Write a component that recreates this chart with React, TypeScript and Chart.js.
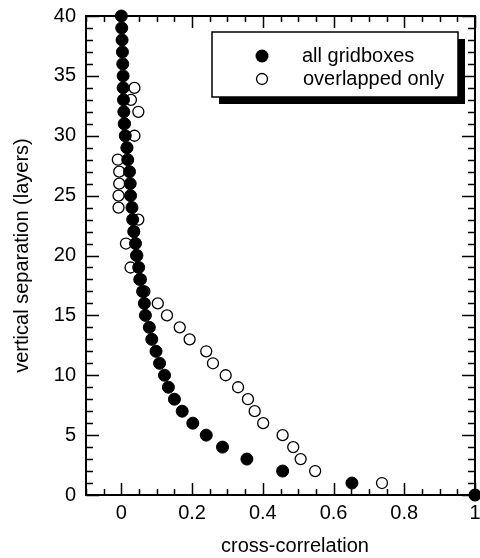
import React, { useEffect, useRef } from "react";
import { Chart, registerables } from "chart.js";

Chart.register(...registerables);

// ---- data ----
const layers = [
  0, 1, 2, 3, 4, 5, 6, 7, 8, 9, 10, 11, 12, 13, 14, 15, 16, 17, 18, 19, 20,
  21, 22, 23, 24, 25, 26, 27, 28, 29, 30, 31, 32, 33, 34, 35, 36, 37, 38, 39, 40,
];
const allGridboxes = [
  1.0, 0.652, 0.456, 0.355, 0.286, 0.24, 0.202, 0.172, 0.15, 0.133, 0.122,
  0.108, 0.098, 0.086, 0.079, 0.068, 0.065, 0.06, 0.052, 0.049, 0.044,
  0.04, 0.035, 0.032, 0.03, 0.026, 0.025, 0.023, 0.018, 0.016, 0.011,
  0.008, 0.007, 0.006, 0.005, 0.005, 0.004, 0.003, 0.002, 0.001, 0.0,
];
const overlappedLayers = [
  0, 1, 2, 3, 4, 5, 6, 7, 8, 9, 10, 11, 12, 13, 14, 15, 16, 17, 18, 19, 20,
  21, 22, 23, 24, 25, 26, 27, 28, 29, 30, 31, 32, 33, 34,
];
const overlappedOnly = [
  1.0, 0.737, 0.548, 0.507, 0.486, 0.456, 0.401, 0.377, 0.358, 0.33, 0.295,
  0.259, 0.24, 0.193, 0.165, 0.129, 0.103, 0.065, 0.055, 0.026, 0.042,
  0.013, 0.036, 0.048, -0.008, -0.008, -0.006, -0.006, -0.01, 0.015, 0.037,
  0.01, 0.048, 0.027, 0.037,
];
const seriesNames = ["all gridboxes", "overlapped only"];
const xTickLabels = [0, 0.2, 0.4, 0.6, 0.8, 1];
const yTickLabels = [0, 5, 10, 15, 20, 25, 30, 35, 40];
const xTitle = "cross-correlation";
const yTitle = "vertical separation (layers)";
const X_MIN = -0.1;
const X_MAX = 1.0;
const X_MINOR = 0.05;
const X_MAJOR = 0.2;
const Y_MIN = 0;
const Y_MAX = 40;
const Y_MINOR = 1;
const Y_MAJOR = 5;

const FONT = "'Liberation Sans', Arial, Helvetica, sans-serif";
const INK = "#000";

const framePlugin = {
  id: "frameTicks",
  beforeDatasetsDraw(chart: any) {
    const { ctx, chartArea: a, scales } = chart;
    const x = scales.x;
    const y = scales.y;
    ctx.save();
    ctx.strokeStyle = INK;
    ctx.lineWidth = 1.5;
    ctx.beginPath();
    const nx = Math.round((X_MAX - X_MIN) / X_MINOR);
    for (let i = 0; i <= nx; i++) {
      const v = X_MIN + i * X_MINOR;
      const r = v / X_MAJOR;
      const major = Math.abs(r - Math.round(r)) < 1e-6;
      const len = major ? 12 : 6;
      const px = Math.round(x.getPixelForValue(v)) + 0.5;
      ctx.moveTo(px, a.bottom);
      ctx.lineTo(px, a.bottom - len);
      ctx.moveTo(px, a.top);
      ctx.lineTo(px, a.top + len);
    }
    const ny = Math.round((Y_MAX - Y_MIN) / Y_MINOR);
    for (let i = 0; i <= ny; i++) {
      const v = Y_MIN + i * Y_MINOR;
      const major = v % Y_MAJOR === 0;
      const len = major ? 13 : 7;
      const py = Math.round(y.getPixelForValue(v)) + 0.5;
      ctx.moveTo(a.left, py);
      ctx.lineTo(a.left + len, py);
      ctx.moveTo(a.right, py);
      ctx.lineTo(a.right - len, py);
    }
    ctx.stroke();
    ctx.lineWidth = 2;
    ctx.strokeRect(a.left, a.top, a.right - a.left, a.bottom - a.top);
    ctx.restore();
  },
  afterDraw(chart: any) {
    const { ctx, chartArea: a } = chart;
    ctx.save();
    // x-axis title
    ctx.fillStyle = INK;
    ctx.font = `20px ${FONT}`;
    ctx.textAlign = "center";
    ctx.textBaseline = "middle";
    ctx.fillText(xTitle, a.left + 209, a.bottom + 51);

    // legend box with drop shadow
    const bx = a.left + 126;
    const by = a.top + 16;
    const bw = 246;
    const bh = 65;
    ctx.fillStyle = INK;
    ctx.fillRect(bx + 7, by + 7, bw, bh);
    ctx.fillStyle = "#fff";
    ctx.fillRect(bx, by, bw, bh);
    ctx.strokeStyle = INK;
    ctx.lineWidth = 1.5;
    ctx.strokeRect(bx, by, bw, bh);

    const mx = bx + 50;
    const rows = [by + 24, by + 47];
    // filled marker
    ctx.beginPath();
    ctx.arc(mx, rows[0], 6.5, 0, Math.PI * 2);
    ctx.fillStyle = INK;
    ctx.fill();
    // open marker
    ctx.beginPath();
    ctx.arc(mx, rows[1], 5.5, 0, Math.PI * 2);
    ctx.lineWidth = 1.3;
    ctx.stroke();

    ctx.fillStyle = INK;
    ctx.textAlign = "left";
    ctx.textBaseline = "middle";
    ctx.fillText(seriesNames[0], bx + 90, rows[0]);
    ctx.fillText(seriesNames[1], bx + 91, rows[1]);
    ctx.restore();
  },
};

export default function App() {
  const ref = useRef<HTMLCanvasElement | null>(null);
  useEffect(() => {
    if (!ref.current) return;
    const chart = new Chart(ref.current, {
      type: "scatter",
      data: {
        datasets: [
          {
            label: seriesNames[0],
            data: layers.map((l, i) => ({ x: allGridboxes[i], y: l })),
            pointRadius: 6,
            pointHoverRadius: 6,
            pointBackgroundColor: INK,
            pointBorderColor: INK,
            pointBorderWidth: 1,
            showLine: false,
            clip: false,
            order: 0,
          },
          {
            label: seriesNames[1],
            data: overlappedLayers.map((l, i) => ({ x: overlappedOnly[i], y: l })),
            pointRadius: 5.5,
            pointHoverRadius: 5.5,
            pointBackgroundColor: "#fff",
            pointBorderColor: INK,
            pointBorderWidth: 1.3,
            showLine: false,
            clip: false,
            order: 1,
          },
        ] as any,
      },
      options: {
        animation: false,
        responsive: false,
        devicePixelRatio: 1,
        layout: { padding: { top: 16, right: 5, left: 0, bottom: 0 }, autoPadding: false } as any,
        plugins: { legend: { display: false }, tooltip: { enabled: false } },
        events: [],
        scales: {
          x: {
            type: "linear",
            min: X_MIN,
            max: X_MAX,
            grid: { display: false, drawTicks: false },
            border: { display: false },
            afterBuildTicks: (scale: any) => {
              scale.ticks = xTickLabels.map((v) => ({ value: v }));
            },
            afterFit: (scale: any) => {
              scale.height = 63;
              scale.paddingLeft = 0;
              scale.paddingRight = 0;
              scale.paddingTop = 0;
              scale.paddingBottom = 0;
            },
            ticks: {
              color: INK,
              font: { family: FONT, size: 20 },
              padding: 6,
              maxRotation: 0,
              autoSkip: false,
              callback: (v: any) => String(Math.round(Number(v) * 10) / 10),
            },
            title: { display: false },
          },
          y: {
            type: "linear",
            min: Y_MIN,
            max: Y_MAX,
            grid: { display: false, drawTicks: false },
            border: { display: false },
            afterBuildTicks: (scale: any) => {
              scale.ticks = yTickLabels.map((v) => ({ value: v }));
            },
            afterFit: (scale: any) => {
              scale.width = 86;
              scale.paddingLeft = 0;
              scale.paddingRight = 0;
              scale.paddingTop = 0;
              scale.paddingBottom = 0;
            },
            ticks: {
              color: INK,
              font: { family: FONT, size: 20 },
              padding: 10,
              autoSkip: false,
            },
            title: {
              display: true,
              text: yTitle,
              color: INK,
              font: { family: FONT, size: 20 },
              padding: { top: 10, bottom: 0 },
            },
          },
        },
      } as any,
      plugins: [framePlugin],
    });
    return () => chart.destroy();
  }, []);

  return (
    <div style={{ position: "absolute", left: 0, top: 0, width: 480, height: 558, background: "#fff" }}>
      <canvas ref={ref} width={480} height={558} style={{ width: 480, height: 558, display: "block" }} />
    </div>
  );
}
